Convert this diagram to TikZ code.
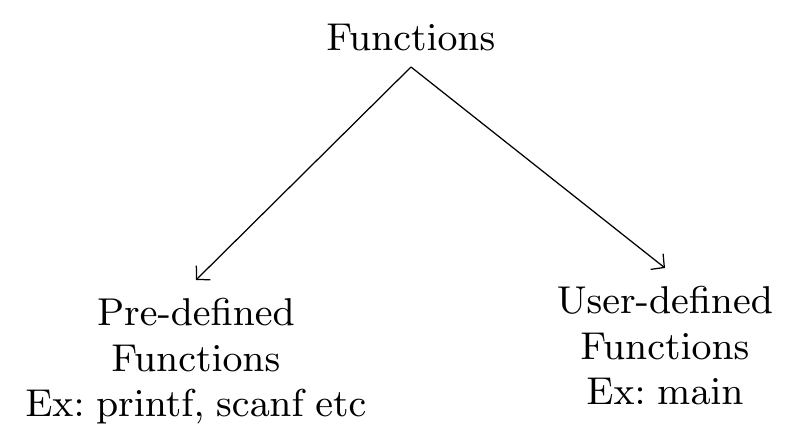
\documentclass[tikz,border=0pt]{standalone}
\usetikzlibrary{arrows.meta}
\font\bigroman=cmr9 at 38.8pt
\newcommand{\lblfont}{\bigroman\frenchspacing\spaceskip=0.29em plus 0.1em minus 0.05em\baselineskip=45.3pt\relax}
\tikzset{
  lbl/.style={font={\lblfont}, align=center, inner sep=0pt},
  conn/.style={-{Straight Barb[length=9.5pt,width=20pt]}, line width=1.25pt}
}
\begin{document}
\begin{tikzpicture}[x=1pt,y=-1pt]
\useasboundingbox (0,0) rectangle (806,433);
\node[lbl, anchor=base, outer ysep=16.5pt] (top) at (411,50.5) {Functions};
\node[lbl, anchor=north, outer ysep=19pt] (left) at (196,280) {Pre-defined\\Functions\\Ex: printf, scanf etc};
\node[lbl, anchor=north, outer ysep=19pt] (right) at (665,268) {User-defined\\Functions\\Ex: main};
\draw[conn] (top.south) -- (left.north);
\draw[conn] (top.south) -- (right.north);
\end{tikzpicture}
\end{document}
